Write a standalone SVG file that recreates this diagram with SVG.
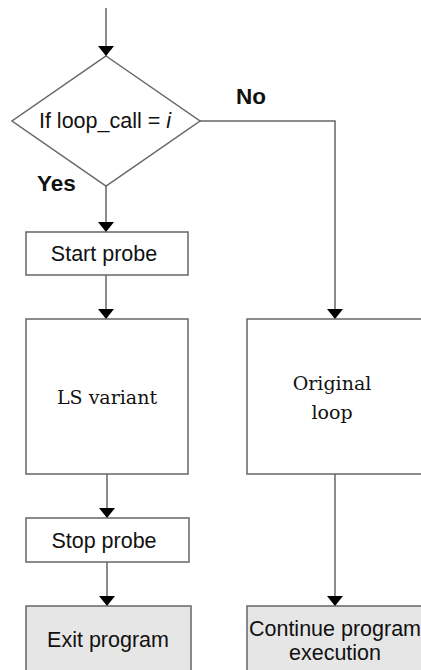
<svg xmlns="http://www.w3.org/2000/svg" width="421" height="670" viewBox="0 0 421 670">
<defs>
<marker id="arr" viewBox="0 0 10 16" refX="10" refY="8" markerWidth="10" markerHeight="16" markerUnits="userSpaceOnUse" orient="auto">
<path d="M0,0 L10,8 L0,16 Z" fill="#000"/>
</marker>
<style>
.box{fill:#fff;stroke:#666;stroke-width:1.5}
.grey{fill:#e6e6e6;stroke:#666;stroke-width:1.5}
.conn{fill:none;stroke:#666;stroke-width:1.5;marker-end:url(#arr)}
.sans{font-family:"Liberation Sans",Arial,sans-serif;font-size:21.5px;fill:#111;text-anchor:middle}
.serif{font-family:"DejaVu Serif","Liberation Serif",serif;font-size:19px;fill:#111;text-anchor:middle}
.bold{font-family:"Liberation Sans",Arial,sans-serif;font-size:22.5px;font-weight:bold;fill:#111}
</style>
</defs>
<rect width="421" height="670" fill="#fff"/>
<g id="connectors">
<path class="conn" d="M106,8 V56"/>
<path class="conn" d="M106,186 V232"/>
<path class="conn" d="M200,121 H335 V319"/>
<path class="conn" d="M106,275 V319"/>
<path class="conn" d="M107,474 V518"/>
<path class="conn" d="M107,562 V606"/>
<path class="conn" d="M335,474 V606"/>
</g>
<g id="decision">
<polygon class="box" points="106,56 200,121 106,186 12,121"/>
<text class="sans" x="105" y="128">If loop_call = <tspan font-style="italic">i</tspan></text>
</g>
<g id="label-no"><text class="bold" x="236" y="104">No</text></g>
<g id="label-yes"><text class="bold" x="37" y="191">Yes</text></g>
<g id="start-probe">
<rect class="box" x="26" y="232" width="162" height="43"/>
<text class="sans" x="104" y="261">Start probe</text>
</g>
<g id="ls-variant">
<rect class="box" x="26" y="319" width="162" height="155"/>
<text class="serif" x="107" y="404">LS variant</text>
</g>
<g id="original-loop">
<rect class="box" x="247" y="319" width="190" height="155"/>
<text class="serif" x="332" y="390">Original</text>
<text class="serif" x="332" y="419">loop</text>
</g>
<g id="stop-probe">
<rect class="box" x="26" y="518" width="163" height="44"/>
<text class="sans" x="104" y="548">Stop probe</text>
</g>
<g id="exit-program">
<rect class="grey" x="26" y="606" width="165" height="80"/>
<text class="sans" x="108" y="647">Exit program</text>
</g>
<g id="continue">
<rect class="grey" x="247" y="606" width="190" height="80"/>
<text class="sans" x="335" y="636">Continue program</text>
<text class="sans" x="335" y="660">execution</text>
</g>
</svg>
